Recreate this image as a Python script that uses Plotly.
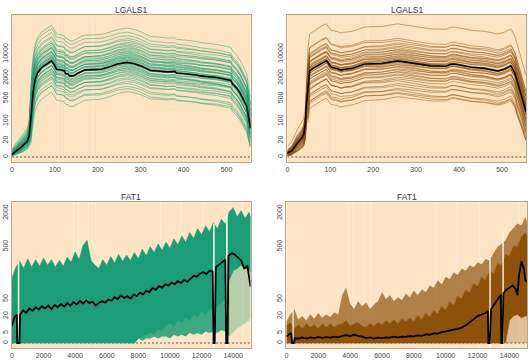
import numpy as np
import plotly.graph_objects as go

OFFSET = 10  # pseudo-count of the original log(y + 10) style axis

# ---------------- LGALS1 (top panels) ----------------
lg_green_x = [0, 10, 23, 35, 40, 44, 47, 50, 54, 60,
              69, 80, 92, 98, 104, 115, 122, 125, 131, 134,
              143, 155, 169, 190, 208, 230, 246, 269, 285, 300,
              323, 340, 362, 380, 383, 400, 420, 430, 439, 460,
              477, 500, 510, 514, 524, 531, 540, 547, 553, 556]
lg_green_mean = [2, 5, 10, 18, 30, 120, 400, 900, 1800, 2800,
                 4000, 5000, 6300, 5000, 3600, 3400, 3200, 2700, 2600, 2300,
                 2300, 2800, 3400, 3500, 3600, 4300, 5100, 5700, 5200, 4500,
                 3300, 3200, 3000, 3100, 2800, 2700, 2600, 2450, 2300, 2200,
                 2050, 1800, 1700, 1350, 1000, 740, 450, 290, 100, 60]
lg_green_levels = [0.14, 0.17, 0.2, 0.24, 0.28, 0.32, 0.36, 0.4, 0.44, 0.48,
                   0.52, 0.56, 0.6, 0.64, 0.68, 0.72, 0.76, 0.8, 0.85, 0.9,
                   0.95, 1.0, 1.05, 1.1, 1.15, 1.2, 1.26, 1.32, 1.38, 1.45,
                   1.52, 1.6, 1.7, 1.8, 1.9, 2.0, 2.15, 2.3, 2.5, 2.7,
                   2.9, 3.2, 3.5, 3.9, 4.4, 5.0, 6.0, 7.5, 10.0]
# right-end / left-end ratio of each sample (lines cross in the original)
lg_green_tilt = [1.25, 0.85, 1.1, 0.75, 1.3, 0.9, 1.15, 0.8, 1.05, 1.3,
                 0.85, 1.15, 0.75, 1.2, 0.95, 1.35, 0.8, 1.1, 0.7, 1.25,
                 1.0, 0.85, 1.15, 0.8, 1.3, 0.9, 1.1, 0.75, 1.25, 0.95,
                 1.15, 0.85, 1.4, 0.9, 1.1, 0.75, 1.2, 0.85, 1.05, 1.3,
                 0.8, 1.15, 0.9, 1.25, 0.8, 1.1, 0.85, 0.8, 0.9]

lg_brown_x = [0, 10, 24, 33, 38, 42, 44, 48, 52, 60,
              70, 80, 91, 97, 102, 115, 125, 133, 150, 180,
              220, 257, 290, 335, 370, 380, 389, 410, 428, 460,
              490, 505, 521, 530, 536, 545, 552, 556]
lg_brown_mean = [3, 5, 16, 25, 35, 80, 290, 1200, 3200, 3800,
                 4500, 5500, 6300, 5000, 4100, 3800, 3400, 3600, 3800, 5100,
                 5300, 6300, 5500, 4500, 4400, 5000, 5100, 4600, 4100, 3800,
                 3200, 3600, 4500, 2800, 1500, 700, 300, 200]
lg_brown_levels = [0.09, 0.11, 0.12, 0.14, 0.16, 0.19, 0.22, 0.26, 0.3, 0.34,
                   0.38, 0.42, 0.46, 0.5, 0.55, 0.6, 0.65, 0.7, 0.75, 0.8,
                   0.85, 0.9, 0.95, 1.0, 1.05, 1.1, 1.15, 1.2, 1.28, 1.36,
                   1.45, 1.55, 1.65, 1.75, 1.9, 2.05, 2.2, 2.4, 2.7, 3.0,
                   3.4, 3.9, 4.5, 12.0]
lg_brown_tilt = [1.2, 0.85, 1.1, 0.75, 1.3, 0.9, 1.15, 0.8, 1.05, 1.25,
                 0.9, 1.1, 0.75, 1.2, 0.95, 1.35, 0.85, 1.05, 0.7, 1.25,
                 1.0, 0.85, 1.15, 0.8, 1.3, 0.9, 1.1, 0.75, 1.2, 0.95,
                 1.15, 0.85, 1.3, 0.9, 1.05, 0.8, 1.2, 0.85, 1.1, 0.9,
                 1.15, 0.8, 0.9, 1.0]
lg_ramp_end = [44, 48]  # x where each panel's profile leaves its low start
lg_exons = [107, 188]

# ---------------- FAT1 (bottom panels) ----------------
fat_x = list(range(0, 15001, 250)) + [15100]

fat_green_upper = [130, 210, 270, 200, 300, 210, 290, 220, 310, 230,
                   290, 210, 280, 220, 320, 260, 400, 290, 520, 650,
                   280, 230, 200, 290, 230, 330, 250, 360, 270, 350,
                   280, 390, 300, 450, 340, 500, 390, 560, 430, 600,
                   470, 690, 540, 780, 600, 900, 700, 1050, 820, 1180,
                   930, 1350, 1050, 1550, 1250, 2100, 2500, 1700, 2200, 1600,
                   2050, 1700]
fat_green_dense_low = [0, 0, 0, 0, 0, 0, 0, 0, 0, 0,
                       0, 0, 0, 0, 0, 0, 0, 0, 0, 0,
                       0, 0, 0, 0, 0, 0, 0, 0, 0, 0,
                       0, 0, 2, 3, 4, 5, 4, 7, 6, 10,
                       12, 9, 15, 12, 18, 14, 22, 18, 26, 20,
                       30, 25, 35, 40, 50, 120, 180, 200, 230, 200,
                       190, 170]
fat_green_sparse_low = [0, 0, 0, 0, 0, 0, 0, 0, 0, 0,
                        0, 0, 0, 0, 0, 0, 0, 0, 0, 0,
                        0, 0, 0, 0, 0, 0, 0, 0, 0, 1,
                        2, 1, 2, 1, 2, 2, 3, 2, 3, 3,
                        2, 4, 3, 4, 3, 5, 4, 5, 4, 6,
                        5, 6, 5, 7, 6, 3, 5, 8, 10, 12,
                        15, 18]
fat_green_black_x = [0, 150, 300, 340, 470, 520, 700, 900, 1100, 1300,
                     1500, 1700, 1900, 2100, 2300, 2500, 2700, 2900, 3100, 3300,
                     3500, 3700, 3900, 4100, 4300, 4500, 4700, 4900, 5100, 5300,
                     5500, 5700, 5900, 6100, 6300, 6500, 6700, 6900, 7100, 7300,
                     7500, 7700, 7900, 8100, 8300, 8500, 8700, 8900, 9100, 9300,
                     9500, 9700, 9900, 10100, 10300, 10500, 10700, 10900, 11100, 11300,
                     11500, 11700, 11900, 12100, 12300, 12500, 12700, 12760, 12830, 12900,
                     13100, 13300, 13500, 13560, 13640, 13700, 13900, 14100, 14300, 14500,
                     14700, 14900, 15100]
fat_green_black = [10, 18, 22, 0, 0, 22, 28, 24, 31, 27,
                   33, 29, 35, 31, 36, 30, 37, 33, 39, 34,
                   41, 36, 43, 38, 46, 40, 47, 41, 44, 36,
                   41, 45, 42, 49, 46, 55, 50, 60, 53, 58,
                   51, 62, 58, 68, 62, 75, 70, 85, 78, 92,
                   86, 100, 94, 108, 100, 115, 106, 120, 112, 130,
                   145, 140, 160, 170, 158, 180, 175, 0, 0, 210,
                   230, 260, 290, 0, 0, 340, 380, 360, 320, 280,
                   200, 220, 90]
fat_green_gap_tops = [260, 1300, 1900]

fat_brown_solid = [10, 13, 8, 11, 8, 12, 9, 11, 8, 12,
                   9, 12, 9, 11, 12, 15, 10, 12, 13, 10,
                   9, 12, 10, 13, 11, 15, 12, 16, 12, 17,
                   14, 18, 14, 21, 16, 24, 19, 28, 23, 35,
                   28, 45, 36, 58, 50, 78, 68, 105, 90, 140,
                   120, 180, 160, 250, 230, 360, 340, 520, 500, 760,
                   900, 760]
fat_brown_upper = [14, 22, 30, 16, 20, 15, 22, 17, 24, 18,
                   22, 19, 25, 22, 60, 85, 40, 30, 45, 35,
                   42, 30, 38, 45, 70, 50, 60, 45, 55, 48,
                   65, 55, 75, 60, 80, 70, 95, 85, 120, 100,
                   140, 125, 170, 150, 200, 180, 230, 210, 260, 240,
                   300, 280, 380, 500, 560, 650, 900, 1100, 1300, 1200,
                   1700, 1400]
fat_brown_low = [0, 0, 0, 0, 0, 0, 0, 0, 0, 0,
                 0, 0, 0, 0, 0, 0, 0, 0, 0, 0,
                 0, 0, 0, 0, 0, 0, 0, 0, 0, 0,
                 0, 0, 0, 0, 0, 0, 0, 0, 0, 0,
                 0, 0, 0, 0, 0, 0, 0, 0, 0, 0,
                 0, 0, 0, 0, 0, 0, 15, 20, 22, 18,
                 20, 20]
fat_brown_black_x = [0, 150, 300, 360, 470, 520, 750, 1000, 1250, 1500,
                     1750, 2000, 2250, 2500, 2750, 3000, 3250, 3500, 3750, 4000,
                     4250, 4500, 4750, 5000, 5250, 5500, 5750, 6000, 6250, 6500,
                     6750, 7000, 7250, 7500, 7750, 8000, 8250, 8500, 8750, 9000,
                     9250, 9500, 9750, 10000, 10250, 10500, 10750, 11000, 11250, 11500,
                     11750, 12000, 12250, 12500, 12640, 12680, 12760, 12850, 13000, 13150,
                     13300, 13450, 13490, 13560, 13620, 13800, 14000, 14200, 14400, 14500,
                     14600, 14750, 14900, 15000, 15100]
fat_brown_black = [3, 4, 5, 0, 0, 2, 2.0, 2.5, 2.0, 2.6,
                   2.2, 2.8, 2.3, 2.7, 2.4, 3.0, 2.6, 3.4, 3.8, 3.2,
                   4.0, 3.4, 3.0, 2.2, 2.6, 2.0, 2.4, 2.2, 2.6, 2.4,
                   2.9, 2.6, 3.0, 2.8, 3.3, 3.1, 3.6, 3.4, 4.2, 4.0,
                   4.8, 4.6, 5.6, 6.0, 6.4, 7.2, 7.8, 8.7, 10.5, 13,
                   16, 20, 22, 24, 27, 0, 0, 30, 36, 44,
                   52, 62, 0, 0, 66, 78, 85, 95, 80, 60,
                   150, 270, 200, 120, 110]
fat_brown_gap_tops = [30, 300, 900]

fat_exons = [3900, 4200, 4850, 5300, 9400, 10700, 12100, 14600]
fat_gaps = [420, 12780, 13600]
fat_split = 55  # index (x = 13750) where the sparse low region changes

top_ticks = [0, 20, 100, 500, 2000, 10000]
bottom_ticks = [0, 5, 20, 50, 500, 2000]
top_xticks = [0, 100, 200, 300, 400, 500]
bottom_xticks = [0, 2000, 4000, 6000, 8000, 10000, 12000, 14000]

# ---------------- styling ----------------
BG = "#FCE4C4"
GREEN = "#1B9E77"
BROWN = "#8C510A"
BORDER = "#B8A78C"
FONT = "Liberation Sans, Arial, sans-serif"

W, H = 528, 362
panels = {
    1: dict(px=(10, 250), py=(15, 162), xr=[0, 556], yr=[0.854, 5.137]),
    2: dict(px=(287, 527), py=(15, 162), xr=[0, 556], yr=[0.854, 5.137]),
    3: dict(px=(10, 250), py=(202, 348), xr=[0, 15100], yr=[0.911, 3.5]),
    4: dict(px=(286, 528), py=(202, 348), xr=[0, 15100], yr=[0.911, 3.5]),
}

fig = go.Figure()


def ax(i):
    return ("x" if i == 1 else f"x{i}"), ("y" if i == 1 else f"y{i}")


def add(i, **kw):
    xa, ya = ax(i)
    kw.setdefault("mode", "lines")
    fig.add_trace(go.Scatter(xaxis=xa, yaxis=ya, showlegend=False,
                             hoverinfo="skip", **kw))


def off(vals):
    return [v + OFFSET for v in vals]


def band(i, xs, lower, upper, color, edge=None):
    """Filled polygon between two typed curves."""
    px = list(xs) + list(xs)[::-1]
    py = off(upper) + off(lower)[::-1]
    add(i, x=px, y=py, fill="toself", fillcolor=color,
        line=dict(color=edge or "rgba(0,0,0,0)", width=0.6 if edge else 0))


def background(i, exons):
    p = panels[i]
    ylo, yhi = 10 ** p["yr"][0], 10 ** p["yr"][1]
    for e in exons:
        add(i, x=[e, e], y=[ylo, yhi], line=dict(color="rgba(255,255,255,0.38)", width=1))
    add(i, x=p["xr"], y=[OFFSET, OFFSET],
        line=dict(color="#333", width=0.8, dash="2px,2px"))


def sample_lines(i, xs, mean, levels, tilts, ramp_end, color):
    xs_a = np.array(xs, dtype=float)
    mean_a = np.array(mean, dtype=float)
    for lv, tl in zip(levels, tilts):
        scale = lv * tl ** ((xs_a - 280.0) / 280.0)
        start = xs_a < ramp_end
        scale[start] = np.sqrt(lv)
        add(i, x=xs, y=off(mean_a * scale), line=dict(color=color, width=0.8), opacity=0.6)


def gap_lines(i, tops, wide):
    for g, t in zip(fat_gaps, tops):
        col = BG if g < 1000 else "#FFF4E8"
        add(i, x=[g, g], y=[10 ** panels[i]["yr"][0], t + OFFSET], line=dict(color=col, width=wide))


# ---- top-left (green LGALS1)
background(1, lg_exons)
sample_lines(1, lg_green_x, lg_green_mean, lg_green_levels, lg_green_tilt, lg_ramp_end[0], GREEN)
add(1, x=lg_green_x, y=off(lg_green_mean), line=dict(color="black", width=1.6))

# ---- top-right (brown LGALS1)
background(2, lg_exons)
sample_lines(2, lg_brown_x, lg_brown_mean, lg_brown_levels, lg_brown_tilt, lg_ramp_end[1], BROWN)
add(2, x=lg_brown_x, y=off(lg_brown_mean), line=dict(color="black", width=1.6))

# ---- bottom-left (green FAT1)
background(3, fat_exons)
s = fat_split
band(3, fat_x[:s + 1], fat_green_sparse_low[:s + 1], fat_green_dense_low[:s + 1],
     "rgba(27,158,119,0.85)")
band(3, fat_x[s:], fat_green_sparse_low[s:], fat_green_dense_low[s:],
     "rgba(27,158,119,0.3)")
band(3, fat_x, fat_green_dense_low, fat_green_upper, GREEN, edge=GREEN)
gap_lines(3, fat_green_gap_tops, 1.6)
add(3, x=fat_green_black_x, y=off(fat_green_black), line=dict(color="black", width=1.8))

# ---- bottom-right (brown FAT1)
background(4, fat_exons)
band(4, fat_x, [0] * len(fat_x), fat_brown_low, "rgba(140,81,10,0.25)")
band(4, fat_x, fat_brown_low, fat_brown_solid, BROWN, edge=BROWN)
band(4, fat_x, fat_brown_solid, fat_brown_upper, "rgba(140,81,10,0.68)")
gap_lines(4, fat_brown_gap_tops, 1.4)
add(4, x=fat_brown_black_x, y=off(fat_brown_black), line=dict(color="black", width=1.8))

# ---------------- axes ----------------
layout = dict(width=W, height=H, margin=dict(l=0, r=0, t=0, b=0),
              paper_bgcolor="white", plot_bgcolor=BG, hovermode=False,
              font=dict(family=FONT, color="#333"))
for i, p in panels.items():
    xa, ya = ax(i)
    xname = "xaxis" if i == 1 else f"xaxis{i}"
    yname = "yaxis" if i == 1 else f"yaxis{i}"
    top = i <= 2
    xt = top_xticks if top else bottom_xticks
    yt = top_ticks if top else bottom_ticks
    layout[xname] = dict(domain=[p["px"][0] / W, p["px"][1] / W], anchor=ya, range=p["xr"],
                         showgrid=False, zeroline=False, showline=True, mirror=True,
                         linecolor=BORDER, linewidth=1.2, ticks="",
                         tickvals=xt, ticktext=[str(t) for t in xt],
                         tickfont=dict(family=FONT, size=7, color="#444"))
    layout[yname] = dict(domain=[1 - p["py"][1] / H, 1 - p["py"][0] / H], anchor=xa,
                         type="log", range=p["yr"],
                         showgrid=False, zeroline=False, showline=True, mirror=True,
                         linecolor=BORDER, linewidth=1.2, ticks="",
                         tickvals=[t + OFFSET for t in yt], ticktext=[str(t) for t in yt],
                         tickangle=-90, tickfont=dict(family=FONT, size=7, color="#444"))

titles = [("LGALS1", 1), ("LGALS1", 2), ("FAT1", 3), ("FAT1", 4)]
annotations = []
for text, i in titles:
    p = panels[i]
    annotations.append(dict(text=text, xref="paper", yref="paper",
                            x=(p["px"][0] + p["px"][1]) / 2 / W,
                            y=1 - (p["py"][0] - 5) / H, xanchor="center", yanchor="middle",
                            showarrow=False, font=dict(family=FONT, size=8.5, color="#333")))
layout["annotations"] = annotations
fig.update_layout(**layout)

fig.write_html("out.html")
